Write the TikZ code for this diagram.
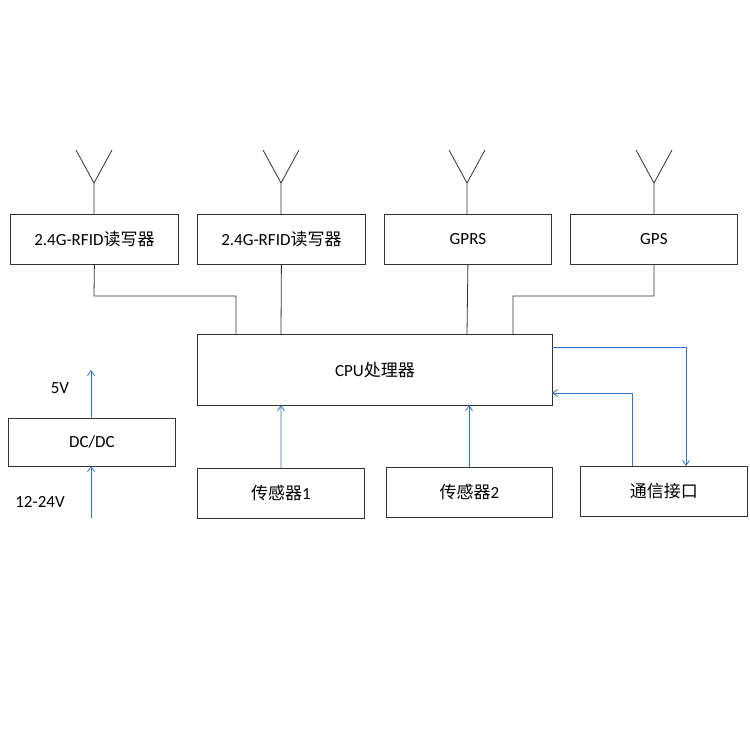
\documentclass[tikz,border=0pt]{standalone}
\usepackage{fontspec}
\setmainfont{Carlito}
\newfontfamily\cjk{Noto Sans CJK SC}
\usetikzlibrary{arrows.meta}
\begin{document}
\begin{tikzpicture}[x=1pt,y=-1pt,
  box/.style={draw=black!80,line width=0.8pt,minimum height=50pt,inner sep=0pt,font=\fontsize{17}{20}\selectfont},
  ln/.style={draw=black!80,line width=0.8pt},
  bl/.style={draw=blue!55!cyan!70!black!80,line width=0.8pt,-{Straight Barb[length=5pt,width=7pt]}}]
\useasboundingbox (0,0) rectangle (750,750);
\node[box,minimum width=168pt,anchor=north west] (r1) at (10,214) {2.4G-RFID{\cjk 读写器}};
\node[box,minimum width=168pt,anchor=north west] (r2) at (197,214) {2.4G-RFID{\cjk 读写器}};
\node[box,minimum width=167pt,anchor=north west] (gprs) at (384,214) {GPRS};
\node[box,minimum width=167pt,anchor=north west] (gps) at (570,214) {GPS};
\node[box,minimum width=355pt,minimum height=71pt,anchor=north west] (cpu) at (197,334) {CPU{\cjk 处理器}};
\node[box,minimum width=167pt,minimum height=48pt,anchor=north west] (dc) at (8,418) {DC/DC};
\node[box,minimum width=167pt,anchor=north west] (s1) at (197,468) {{\cjk 传感器}1};
\node[box,minimum width=166pt,anchor=north west] (s2) at (386,467) {{\cjk 传感器}2};
\node[box,minimum width=167pt,anchor=north west] (cm) at (580,466) {{\cjk 通信接口}};
\foreach \x/\n in {94/a1,281/a2,467/a3,654/a4}{
  \coordinate (\n) at (\x,183);
  \draw[ln] (\x,214) -- (\n) -- (\x-18,150);
  \draw[ln] (\n) -- (\x+18,150);
}
\draw[ln] (r1.south) -- (94,296) -- (236,296) -- (236,334);
\draw[ln] (r2.south) -- (281,334);
\draw[ln] (gprs.south) -- (467,334);
\draw[ln] (gps.south) -- (654,296) -- (513,296) -- (513,334);
\draw[bl] (s1.north) -- (281,405);
\draw[bl] (469,467) -- (469,405);
\draw[bl] (552,347) -- (686,347) -- (686,466);
\draw[bl] (632,466) -- (632,393) -- (552,393);
\coordinate (pin) at (91,518);
\coordinate (pout) at (91,370);
\draw[bl] (pin) -- (91,466);
\draw[bl] (91,418) -- (pout);
\node[font=\fontsize{17}{20}\selectfont] (v5) at (60,388) {5V};
\node[font=\fontsize{17}{20}\selectfont] (v12) at (40,502) {12-24V};
\end{tikzpicture}
\end{document}
